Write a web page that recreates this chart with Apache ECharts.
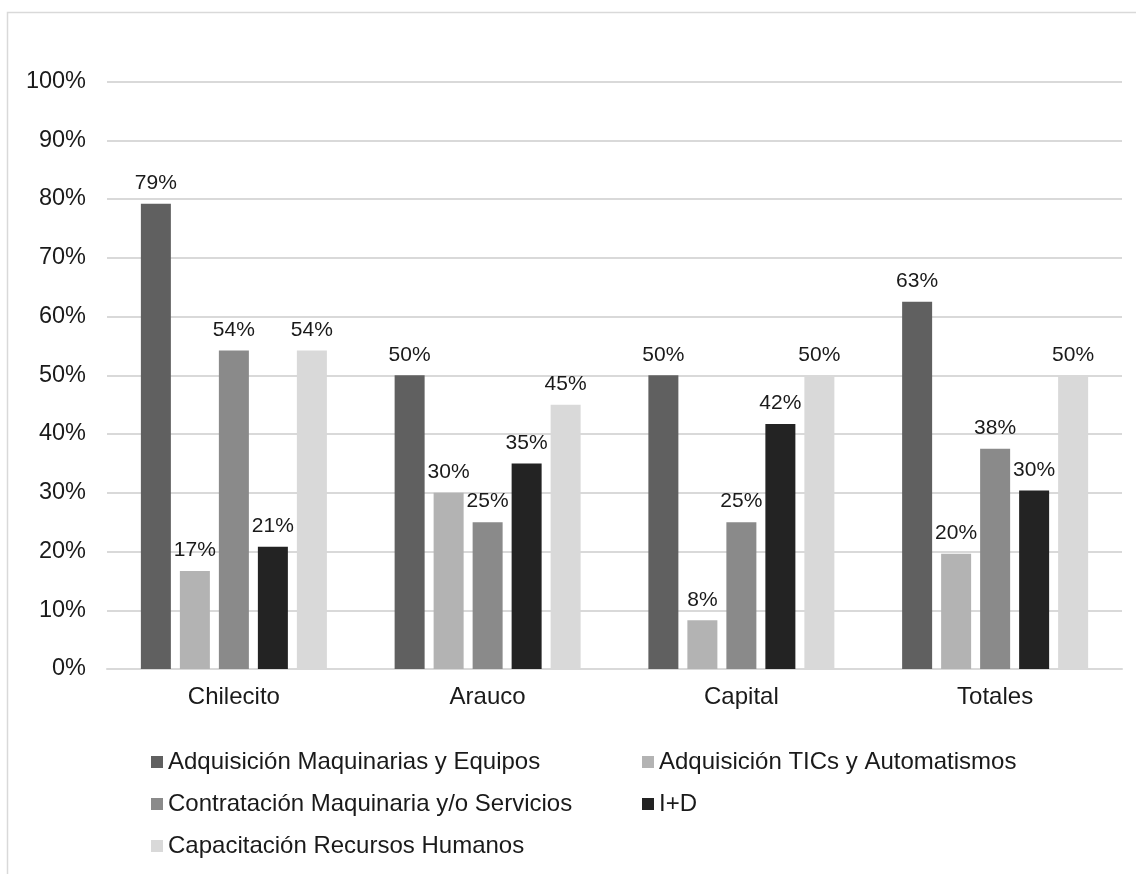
<!DOCTYPE html>
<html>
<head>
<meta charset="utf-8">
<script src="https://cdn.jsdelivr.net/npm/echarts@6/dist/echarts.min.js"></script>
<style>html,body{margin:0;padding:0;background:#fff;}#c{width:1136px;height:874px;}</style>
</head>
<body>
<div id="c"></div>
<script>
var categories = ['Chilecito', 'Arauco', 'Capital', 'Totales'];
var seriesNames = ['Adquisición Maquinarias y Equipos', 'Adquisición TICs y Automatismos', 'Contratación Maquinaria y/o Servicios', 'I+D', 'Capacitación Recursos Humanos'];
var maquinarias = [79.2, 50, 50, 62.5];
var tics = [16.7, 30, 8.3, 19.6];
var contratacion = [54.2, 25, 25, 37.5];
var iD = [20.8, 35, 41.7, 30.4];
var capacitacion = [54.2, 45, 50, 50];
var yTicks = [0, 10, 20, 30, 40, 50, 60, 70, 80, 90, 100];
var colors = ['#606060', '#b3b3b3', '#8a8a8a', '#232323', '#d9d9d9'];

var values = [maquinarias, tics, contratacion, iD, capacitacion];
var FONT = 'Liberation Sans, Arial, sans-serif';

var chart = echarts.init(document.getElementById('c'), null, {renderer: 'canvas'});

var series = seriesNames.map(function (n, i) {
  return {
    name: n,
    type: 'bar',
    data: values[i],
    barWidth: 30,
    barGap: '30%',
    itemStyle: {color: colors[i]},
    label: {
      show: true, position: 'top', distance: 10,
      formatter: function (p) { return Math.round(p.value) + '%'; },
      color: '#1a1a1a', fontSize: 21, fontFamily: FONT
    }
  };
});

var legendPos = [
  {left: 151, top: 750},
  {left: 642, top: 750},
  {left: 151, top: 792},
  {left: 642, top: 792},
  {left: 151, top: 834}
];
var legends = seriesNames.map(function (n, i) {
  return {
    data: [n],
    left: legendPos[i].left, top: legendPos[i].top,
    icon: 'rect', itemWidth: 12, itemHeight: 12, itemGap: 0,
    padding: 0,
    selectedMode: false,
    textStyle: {fontSize: 24, color: '#1a1a1a', fontFamily: FONT}
  };
});

chart.setOption({
  animation: false,
  backgroundColor: '#fff',
  color: colors,
  graphic: [{
    type: 'rect',
    shape: {x: 7.5, y: 12.5, width: 1400, height: 1200},
    style: {fill: null, stroke: '#d9d9d9', lineWidth: 1.5},
    silent: true, z: -10
  }],
  grid: {left: 107, right: 14, top: 81.5, bottom: 205, containLabel: false},
  legend: legends,
  xAxis: {
    type: 'category',
    data: categories,
    axisLine: {show: true, lineStyle: {color: '#d9d9d9', width: 2}},
    axisTick: {show: false},
    axisLabel: {fontSize: 24, color: '#1a1a1a', fontFamily: FONT, margin: 16}
  },
  yAxis: {
    type: 'value',
    min: yTicks[0], max: yTicks[yTicks.length - 1], interval: 10,
    axisLine: {show: false},
    axisTick: {show: false},
    splitLine: {lineStyle: {color: '#d9d9d9', width: 2}},
    axisLabel: {fontSize: 23.5, color: '#1a1a1a', fontFamily: FONT, margin: 21,
      formatter: function (v) { return v + '%'; }}
  },
  series: series
});
</script>
</body>
</html>
